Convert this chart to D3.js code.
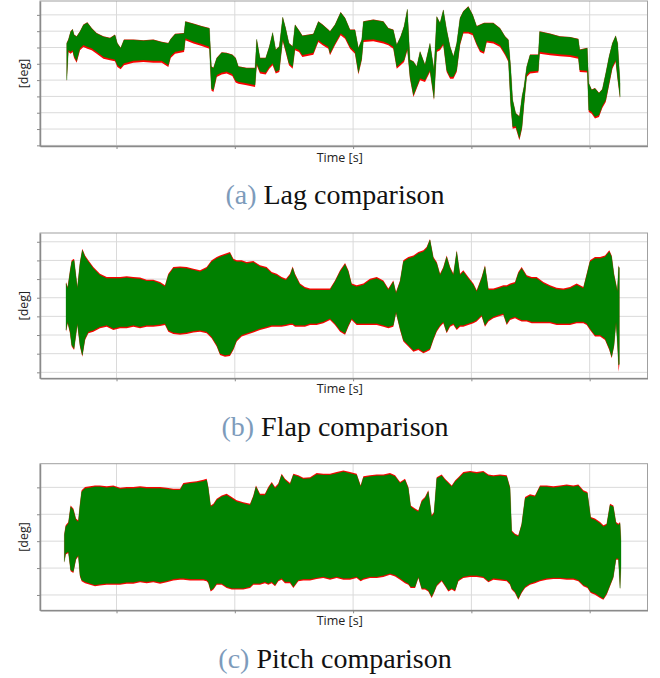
<!DOCTYPE html>
<html><head><meta charset="utf-8">
<script src="https://cdn.jsdelivr.net/npm/d3@7"></script>
<style>body{margin:0;background:#fff}svg{display:block}</style>
</head><body>
<svg id="chart" width="660" height="678"></svg>
<script>
// ---------- shared axis ticks ----------
const timeTicks = [100, 200, 300, 400, 500];
const lagTicks = [0, 1, 2, 3, 4, 5, 6, 7, 8];
const flapTicks = [0, 1, 2, 3, 4, 5, 6, 7];
const pitchTicks = [0, 1, 2, 3, 4];
const captionTags = ["(a)", "(b)", "(c)"];
const captionTexts = ["Lag comparison", "Flap comparison", "Pitch comparison"];
const xTitle = "Time [s]";
const yTitle = "[deg]";

// ---------- (a) Lag: envelopes of the oscillating signals ----------
const lagTime = [57.9,59.3,61.2,62.9,64.1,66.3,69.1,72.0,75.3,79.0,
 83.2,88.9,94.5,98.7,100.7,103.5,106.3,114.2,122.7,131.1,
 138.2,143.8,145.8,149.5,157.1,158.2,165.0,172.0,178.5,180.2,
 181.9,184.7,188.9,193.1,197.9,200.7,203.0,210.0,217.1,218.5,
 221.3,226.1,229.2,232.0,234.6,237.6,240.5,243.0,245.8,248.9,
 250.9,254.3,257.1,266.4,270.6,274.3,279.1,280.5,284.7,289.5,
 293.2,297.4,301.6,304.5,307.3,308.7,317.1,325.6,329.8,334.0,
 336.9,340.2,343.1,345.9,348.1,351.0,353.8,356.6,360.8,365.0,
 368.4,370.7,373.5,376.3,379.1,382.0,384.8,387.6,390.4,393.2,
 397.4,401.1,404.5,407.3,410.7,412.9,418.6,424.2,428.5,431.3,
 433.2,434.9,437.5,440.6,442.8,444.5,446.8,449.6,456.6,457.7,
 466.5,474.9,483.4,490.4,491.6,498.0,499.2,501.7,504.5,507.9,
 510.7,513.6,516.4,519.2,522.0,523.7,525.7];
const lagGreenHi = [6.25,6.46,6.97,7.11,6.76,6.66,6.97,7.38,7.52,7.17,
 6.86,6.66,6.56,6.76,6.25,5.95,6.46,6.46,6.42,6.46,
 6.32,6.25,6.50,6.81,6.86,7.58,7.44,7.28,7.17,4.82,
 4.72,5.34,5.68,5.64,5.54,5.34,4.82,4.72,4.72,6.50,
 5.34,5.34,6.05,6.91,5.85,6.05,7.85,7.17,6.25,6.05,
 7.38,7.03,6.71,6.81,7.58,7.38,7.07,6.97,7.38,8.14,
 7.79,7.07,7.07,5.95,6.46,7.58,7.69,7.58,7.17,7.07,
 6.15,6.66,7.28,8.34,5.23,5.13,4.82,5.74,4.92,6.25,
 4.62,7.89,7.48,8.30,7.07,6.05,5.43,6.25,7.79,8.20,
 8.50,7.99,7.28,7.38,7.48,7.48,7.48,7.17,6.66,6.46,
 4.82,2.78,1.96,1.76,2.98,3.60,4.82,5.54,5.54,6.97,
 6.83,6.66,6.62,6.50,5.85,5.95,3.80,3.39,3.49,3.19,
 3.43,4.41,5.43,6.25,6.71,6.25,3.80];
const lagGreenLo = [4.00,5.85,5.74,5.84,5.48,5.19,5.95,6.15,6.05,5.95,
 5.74,5.43,5.33,5.27,4.92,4.78,5.03,5.19,5.23,5.19,
 5.19,4.92,5.48,5.74,5.85,6.56,6.36,6.21,6.05,3.49,
 3.39,4.31,4.46,4.52,4.37,3.97,3.90,3.80,3.70,5.03,
 4.52,4.46,4.82,5.03,4.52,4.62,6.50,5.85,5.03,4.82,
 5.95,5.85,5.54,5.68,6.46,6.25,6.05,5.64,6.25,6.87,
 6.66,6.05,5.74,4.46,5.33,6.46,6.50,6.36,6.25,6.05,
 4.82,5.03,5.23,5.95,4.21,3.08,3.60,4.11,4.00,4.62,
 2.88,5.85,5.95,6.25,4.62,4.21,4.21,4.62,6.25,6.97,
 6.97,6.87,6.25,5.85,5.74,6.42,6.36,6.15,5.64,5.23,
 2.57,1.14,1.18,0.43,1.14,2.57,4.31,4.52,4.58,5.74,
 5.64,5.58,5.54,5.43,4.62,4.58,2.16,2.06,1.76,1.86,
 2.41,2.78,3.80,4.82,5.23,4.11,2.98];
const lagRedHi = [6.29,6.50,7.00,7.14,6.79,6.69,7.00,7.41,7.55,7.20,
 6.89,6.69,6.59,6.79,6.28,5.98,6.49,6.49,6.45,6.49,
 6.35,6.28,6.53,6.84,6.89,7.61,7.47,7.31,7.20,4.85,
 4.75,5.37,5.71,5.67,5.57,5.37,4.85,4.75,4.75,6.53,
 5.37,5.37,6.08,6.94,5.88,6.08,7.88,7.20,6.28,6.08,
 7.41,7.06,6.74,6.84,7.61,7.41,7.10,7.00,7.41,8.17,
 7.82,7.10,7.10,5.98,6.49,7.61,7.72,7.61,7.20,7.10,
 6.18,6.69,7.31,8.37,5.26,5.16,4.85,5.77,4.95,6.28,
 4.65,7.92,7.51,8.33,7.10,6.08,5.46,6.28,7.82,8.23,
 8.53,8.02,7.31,7.41,7.51,7.51,7.51,7.20,6.69,6.49,
 4.85,2.81,1.99,1.79,3.01,3.63,4.85,5.57,5.57,7.00,
 6.86,6.69,6.65,6.53,5.88,5.98,3.83,3.42,3.52,3.22,
 3.46,4.44,5.46,6.28,6.74,6.28,3.83];
const lagRedLo = [3.88,5.73,5.62,5.72,5.36,5.07,5.83,6.03,5.93,5.83,
 5.62,5.31,5.21,5.15,4.80,4.66,4.91,5.07,5.11,5.07,
 5.07,4.80,5.36,5.62,5.73,6.44,6.24,6.09,5.93,3.37,
 3.27,4.19,4.34,4.40,4.25,3.85,3.78,3.68,3.58,4.91,
 4.40,4.34,4.70,4.91,4.40,4.50,6.38,5.73,4.91,4.70,
 5.83,5.73,5.42,5.56,6.34,6.13,5.93,5.52,6.13,6.75,
 6.54,5.93,5.62,4.34,5.21,6.34,6.38,6.24,6.13,5.93,
 4.70,4.91,5.11,5.83,4.09,2.96,3.48,3.99,3.88,4.50,
 2.76,5.73,5.83,6.13,4.50,4.09,4.09,4.50,6.13,6.85,
 6.85,6.75,6.13,5.73,5.62,6.30,6.24,6.03,5.52,5.11,
 2.45,1.02,1.06,0.31,1.02,2.45,4.19,4.40,4.46,5.62,
 5.52,5.46,5.42,5.31,4.50,4.46,2.04,1.94,1.64,1.74,
 2.29,2.66,3.68,4.70,5.11,3.99,2.86];

// ---------- (b) Flap ----------
const flapTime = [57.3,58.7,60.7,62.1,64.1,66.9,69.1,71.1,73.4,76.2,
 80.4,86.0,91.7,97.3,103.0,108.6,114.2,119.9,125.5,131.1,
 136.8,141.0,143.8,148.0,153.7,159.3,165.0,170.6,176.2,180.4,
 184.7,187.5,191.7,195.9,198.8,201.6,205.8,210.0,215.7,221.3,
 226.9,231.2,235.4,239.6,243.3,246.7,248.9,250.9,255.1,259.3,
 263.6,269.2,274.8,280.5,284.7,289.0,293.2,296.0,298.8,303.0,
 308.7,314.3,320.0,325.6,329.8,334.0,336.3,339.7,342.5,346.7,
 351.0,355.2,359.4,362.2,365.0,367.9,370.7,373.5,376.3,379.1,
 382.0,384.8,387.6,390.4,393.2,397.4,401.7,404.5,408.7,411.5,
 414.4,418.6,422.8,427.0,429.9,432.7,436.9,439.7,442.5,446.8,
 451.0,455.2,460.9,466.5,472.1,477.8,483.4,489.0,494.7,497.5,
 500.3,504.5,508.8,513.0,516.6,518.6,520.6,522.3,523.4,524.5,525.1];
const flapGreenHi = [4.76,4.50,5.39,5.93,6.01,4.50,5.84,6.55,6.19,5.93,
 5.57,5.21,5.03,5.03,5.03,5.07,5.03,5.00,4.89,4.89,
 4.76,4.59,5.21,5.57,5.60,5.57,5.48,5.39,5.57,5.93,
 6.10,6.19,6.28,6.37,6.01,5.93,5.93,5.84,5.89,5.66,
 5.57,5.30,5.21,5.03,4.94,5.21,5.60,5.21,4.68,4.50,
 4.41,4.41,4.41,4.41,4.85,5.39,5.78,5.39,4.68,4.59,
 4.68,4.94,5.03,4.85,4.41,4.85,4.23,4.85,5.93,6.10,
 6.19,6.37,6.46,6.64,7.09,6.10,5.84,5.21,5.57,6.19,
 5.57,5.21,6.46,5.21,5.39,5.03,4.68,4.32,5.03,5.66,
 4.41,4.41,4.50,4.59,4.59,4.68,4.76,5.30,5.57,5.12,
 5.03,5.03,4.76,4.59,4.46,4.41,4.50,4.68,4.50,5.21,
 5.93,6.10,6.10,6.19,6.46,6.19,5.21,4.68,4.32,5.66,5.60];
const flapGreenLo = [2.26,2.71,2.17,1.46,1.28,2.62,1.46,0.92,1.82,2.17,
 2.26,2.44,2.53,2.35,2.44,2.44,2.53,2.44,2.53,2.53,
 2.57,2.62,2.26,2.14,2.09,2.14,2.21,2.26,2.17,1.91,
 1.46,1.01,0.92,0.96,1.28,1.73,2.00,2.09,2.21,2.35,
 2.44,2.53,2.53,2.53,2.57,2.62,2.62,2.53,2.53,2.53,
 2.62,2.62,2.71,2.89,2.62,2.26,2.09,2.53,2.89,2.62,
 2.62,2.62,2.62,2.53,2.44,2.53,3.25,2.35,1.73,1.46,
 1.19,1.28,1.10,1.19,1.28,1.82,2.26,2.53,2.71,2.17,
 2.53,2.62,2.35,2.53,2.53,2.62,2.71,2.80,3.07,2.53,
 2.80,2.98,3.07,3.16,2.62,2.89,2.98,2.89,2.80,2.80,
 2.71,2.71,2.71,2.71,2.62,2.62,2.62,2.71,2.71,2.62,
 2.35,2.00,2.00,1.82,1.28,0.84,1.46,2.71,1.64,0.39,0.45];
const flapRedHi = [4.84,4.58,5.47,6.01,6.09,4.58,5.92,6.63,6.27,6.01,
 5.65,5.29,5.11,5.11,5.11,5.15,5.11,5.08,4.97,4.97,
 4.84,4.67,5.29,5.65,5.68,5.65,5.56,5.47,5.65,6.01,
 6.18,6.27,6.36,6.45,6.09,6.01,6.01,5.92,5.97,5.74,
 5.65,5.38,5.29,5.11,5.02,5.29,5.68,5.29,4.76,4.58,
 4.49,4.49,4.49,4.49,4.93,5.47,5.86,5.47,4.76,4.67,
 4.76,5.02,5.11,4.93,4.49,4.93,4.31,4.93,6.01,6.18,
 6.27,6.45,6.54,6.72,7.15,6.18,5.92,5.29,5.65,6.27,
 5.65,5.29,6.54,5.29,5.47,5.11,4.76,4.40,5.11,5.74,
 4.49,4.49,4.58,4.67,4.67,4.76,4.84,5.38,5.65,5.20,
 5.11,5.11,4.84,4.67,4.54,4.49,4.58,4.76,4.58,5.29,
 6.01,6.18,6.18,6.27,6.54,6.27,5.29,4.76,4.40,5.74,5.60];
const flapRedLo = [2.18,2.63,2.09,1.38,1.20,2.54,1.38,0.84,1.74,2.09,
 2.18,2.36,2.45,2.27,2.36,2.36,2.45,2.36,2.45,2.45,
 2.49,2.54,2.18,2.06,2.01,2.06,2.13,2.18,2.09,1.83,
 1.38,0.93,0.84,0.88,1.20,1.65,1.92,2.01,2.13,2.27,
 2.36,2.45,2.45,2.45,2.49,2.54,2.54,2.45,2.45,2.45,
 2.54,2.54,2.63,2.81,2.54,2.18,2.01,2.45,2.81,2.54,
 2.54,2.54,2.54,2.45,2.36,2.45,3.17,2.27,1.65,1.38,
 1.11,1.20,1.02,1.11,1.20,1.74,2.18,2.45,2.63,2.09,
 2.45,2.54,2.27,2.45,2.45,2.54,2.63,2.72,2.99,2.45,
 2.72,2.90,2.99,3.08,2.54,2.81,2.90,2.81,2.72,2.72,
 2.63,2.63,2.63,2.63,2.54,2.54,2.54,2.63,2.63,2.54,
 2.27,1.92,1.92,1.74,1.20,0.76,1.38,2.63,1.56,0.03,0.40];

// ---------- (c) Pitch ----------
const pitchTime = [55.9,57.0,59.3,61.2,63.5,65.7,67.7,69.1,70.5,73.4,
 77.6,81.8,86.0,91.7,97.3,103.0,108.6,114.2,119.9,125.5,
 131.1,136.8,142.4,148.0,153.7,156.5,162.1,167.8,173.4,176.2,
 177.6,179.6,181.9,184.7,188.9,193.1,197.4,201.6,207.2,212.9,
 215.7,217.9,221.3,225.5,228.3,231.2,234.0,236.8,239.6,242.4,
 246.7,249.5,253.7,257.9,263.6,269.2,274.8,280.5,286.1,291.8,
 297.4,303.0,306.4,308.7,314.3,320.0,325.6,331.2,335.5,339.7,
 343.9,346.7,348.7,352.4,355.2,358.0,360.8,363.6,366.4,368.4,
 370.7,374.9,377.7,380.5,383.4,386.2,389.0,393.2,398.9,404.5,
 410.1,414.4,418.6,424.2,429.9,432.7,434.1,436.9,439.7,442.5,
 445.4,449.6,453.8,458.0,463.7,469.3,474.9,480.6,486.2,490.4,
 494.7,498.1,500.9,504.5,508.8,511.6,514.4,517.2,520.0,522.3,
 524.3,525.7,526.5];
const pitchGreenHi = [2.23,2.54,2.66,3.28,3.16,2.79,2.72,3.34,3.84,3.96,
 3.99,4.02,4.02,3.99,4.02,3.94,3.96,3.96,3.99,3.96,
 3.96,3.96,3.94,3.90,3.90,4.11,4.15,4.18,4.23,4.27,
 3.96,3.28,3.34,3.53,3.65,3.71,3.59,3.47,3.40,3.34,
 3.65,4.02,3.71,3.71,3.96,4.15,3.96,4.09,4.46,4.27,
 4.11,4.46,4.40,4.31,4.33,4.48,4.46,4.46,4.52,4.58,
 4.52,4.46,4.02,4.36,4.40,4.43,4.43,4.48,4.40,4.15,
 4.27,3.96,3.28,3.16,3.09,3.47,3.59,3.84,2.91,3.03,
 4.33,4.43,4.27,4.15,4.02,4.21,4.33,4.52,4.56,4.52,
 4.56,4.43,4.40,4.43,4.40,3.96,2.35,2.23,2.17,2.60,
 3.59,3.69,3.65,4.02,4.02,3.99,4.02,4.06,4.02,4.06,
 3.84,3.78,2.85,2.79,2.66,2.54,2.60,3.34,3.28,2.66,
 2.60,2.66,1.98];
const pitchGreenLo = [1.24,1.55,1.61,0.93,0.87,1.36,1.48,0.74,0.56,0.49,
 0.43,0.37,0.40,0.43,0.43,0.43,0.47,0.47,0.52,0.49,
 0.52,0.47,0.52,0.59,0.62,0.62,0.59,0.59,0.59,0.56,
 0.49,0.18,0.25,0.43,0.43,0.31,0.25,0.25,0.25,0.31,
 0.43,0.43,0.43,0.49,0.43,0.49,0.37,0.56,0.62,0.49,
 0.49,0.31,0.56,0.59,0.59,0.64,0.68,0.62,0.68,0.62,
 0.62,0.68,0.56,0.62,0.68,0.68,0.72,0.80,0.74,0.62,
 0.49,0.43,0.31,0.31,0.68,0.25,0.25,0.18,-0.06,0.12,
 0.37,0.56,0.37,0.18,0.25,0.18,0.56,0.68,0.72,0.72,
 0.68,0.52,0.62,0.59,0.56,0.43,0.25,0.12,-0.13,0.12,
 0.31,0.43,0.49,0.56,0.62,0.64,0.64,0.62,0.62,0.56,
 0.37,0.31,0.12,0.06,-0.06,-0.13,0.06,0.37,0.68,1.36,
 1.36,0.25,1.11];
const pitchRedHi = [2.28,2.59,2.71,3.33,3.21,2.84,2.77,3.39,3.89,4.01,
 4.04,4.07,4.07,4.04,4.07,3.99,4.01,4.01,4.04,4.01,
 4.01,4.01,3.99,3.95,3.95,4.16,4.20,4.23,4.28,4.32,
 4.01,3.33,3.39,3.58,3.70,3.76,3.64,3.52,3.45,3.39,
 3.70,4.07,3.76,3.76,4.01,4.20,4.01,4.14,4.51,4.32,
 4.16,4.51,4.45,4.36,4.38,4.53,4.51,4.51,4.57,4.63,
 4.57,4.51,4.07,4.41,4.45,4.48,4.48,4.53,4.45,4.20,
 4.32,4.01,3.33,3.21,3.14,3.52,3.64,3.89,2.96,3.08,
 4.38,4.48,4.32,4.20,4.07,4.26,4.38,4.57,4.61,4.57,
 4.61,4.48,4.45,4.48,4.45,4.01,2.40,2.28,2.22,2.65,
 3.64,3.74,3.70,4.07,4.07,4.04,4.07,4.11,4.07,4.11,
 3.89,3.83,2.90,2.84,2.71,2.59,2.65,3.39,3.33,2.71,
 2.65,2.71,2.03];
const pitchRedLo = [1.19,1.50,1.56,0.88,0.82,1.31,1.43,0.69,0.51,0.44,
 0.38,0.32,0.35,0.38,0.38,0.38,0.42,0.42,0.47,0.44,
 0.47,0.42,0.47,0.54,0.57,0.57,0.54,0.54,0.54,0.51,
 0.44,0.13,0.20,0.38,0.38,0.26,0.20,0.20,0.20,0.26,
 0.38,0.38,0.38,0.44,0.38,0.44,0.32,0.51,0.57,0.44,
 0.44,0.26,0.51,0.54,0.54,0.59,0.63,0.57,0.63,0.57,
 0.57,0.63,0.51,0.57,0.63,0.63,0.67,0.75,0.69,0.57,
 0.44,0.38,0.26,0.26,0.63,0.20,0.20,0.13,-0.11,0.07,
 0.32,0.51,0.32,0.13,0.20,0.13,0.51,0.63,0.67,0.67,
 0.63,0.47,0.57,0.54,0.51,0.38,0.20,0.07,-0.18,0.07,
 0.26,0.38,0.44,0.51,0.57,0.59,0.59,0.57,0.57,0.51,
 0.32,0.26,0.07,0.01,-0.11,-0.18,0.01,0.32,0.63,1.31,
 1.31,0.20,1.06];

// ---------- layout ----------
const W = 660, H = 678;
const plotLeft = 40, plotRight = 647.5;
const timeDomain = [35.3, 548.9];
const panels = [
  {t: lagTime, gHi: lagGreenHi, gLo: lagGreenLo, rHi: lagRedHi, rLo: lagRedLo,
   ticks: lagTicks, yDomain: [-0.04, 8.85], top: 1, bottom: 146, xTitleY: 161.5, capY: 203.5},
  {t: flapTime, gHi: flapGreenHi, gLo: flapGreenLo, rHi: flapRedHi, rLo: flapRedLo,
   ticks: flapTicks, yDomain: [-0.32, 7.47], top: 233, bottom: 378.3, xTitleY: 392.5, capY: 435.5},
  {t: pitchTime, gHi: pitchGreenHi, gLo: pitchGreenLo, rHi: pitchRedHi, rLo: pitchRedLo,
   ticks: pitchTicks, yDomain: [-0.57, 4.88], top: 463.7, bottom: 610.3, xTitleY: 625, capY: 667.5}
];

const svg = d3.select("#chart");
svg.append("rect").attr("width", W).attr("height", H).attr("fill", "#fff");
const x = d3.scaleLinear().domain(timeDomain).range([plotLeft, plotRight]);

panels.forEach((p, i) => {
  const y = d3.scaleLinear().domain(p.yDomain).range([p.bottom, p.top]);
  const g = svg.append("g");
  const clipId = "clip" + i;
  svg.append("clipPath").attr("id", clipId).append("rect")
    .attr("x", plotLeft).attr("y", p.top).attr("width", plotRight - plotLeft).attr("height", p.bottom - p.top);

  // grid
  g.append("g").selectAll("line").data(p.ticks).join("line")
    .attr("x1", plotLeft).attr("x2", plotRight)
    .attr("y1", d => y(d)).attr("y2", d => y(d))
    .attr("stroke", "#dadada").attr("stroke-width", 1);
  g.append("g").selectAll("line").data(timeTicks).join("line")
    .attr("x1", d => x(d)).attr("x2", d => x(d))
    .attr("y1", p.top).attr("y2", p.bottom)
    .attr("stroke", "#dadada").attr("stroke-width", 1);

  // series
  const n = Math.min(p.t.length, p.gHi.length, p.gLo.length, p.rHi.length, p.rLo.length);
  const idx = d3.range(n);
  const redArea = d3.area().x(k => x(p.t[k])).y0(k => y(p.rLo[k])).y1(k => y(p.rHi[k]));
  const greenArea = d3.area().x(k => x(p.t[k])).y0(k => y(p.gLo[k])).y1(k => y(p.gHi[k]));
  const dg = g.append("g").attr("clip-path", `url(#${clipId})`);
  dg.append("path").datum(idx).attr("d", redArea).attr("fill", "#ff0000");
  dg.append("path").datum(idx).attr("d", greenArea)
    .attr("fill", "#008000").attr("stroke", "#008000").attr("stroke-width", 0.3);

  // frame
  g.append("rect").attr("x", plotLeft).attr("y", p.top)
    .attr("width", plotRight - plotLeft).attr("height", p.bottom - p.top)
    .attr("fill", "none").attr("stroke", "#a0a0a0").attr("stroke-width", 1);

  // axes (ticks only, labels hidden as in the original)
  const ya = g.append("g").attr("transform", `translate(${plotLeft},0)`)
    .call(d3.axisLeft(y).tickValues(p.ticks).tickSize(3).tickSizeOuter(0).tickFormat(() => ""));
  const xa = g.append("g").attr("transform", `translate(0,${p.bottom})`)
    .call(d3.axisBottom(x).tickValues(timeTicks).tickSize(3).tickSizeOuter(0).tickFormat(() => ""));
  [ya, xa].forEach(a => {
    a.select(".domain").attr("stroke", "#8a8a8a").attr("stroke-width", 1.5);
    a.selectAll(".tick line").attr("stroke", "#8a8a8a");
  });

  // titles
  g.append("text").attr("x", (plotLeft + plotRight) / 2 - 4).attr("y", p.xTitleY)
    .attr("text-anchor", "middle").attr("font-family", "'Open Sans', sans-serif")
    .attr("font-size", 12.5).attr("fill", "#222").text(xTitle);
  g.append("text")
    .attr("transform", `translate(27.5,${(p.top + p.bottom) / 2}) rotate(-90)`)
    .attr("text-anchor", "middle").attr("font-family", "'Open Sans', sans-serif")
    .attr("font-size", 12.5).attr("fill", "#222").text(yTitle);

  // caption
  const cap = svg.append("text").attr("x", 335).attr("y", p.capY)
    .attr("text-anchor", "middle").attr("font-family", "'Liberation Serif', serif")
    .attr("font-size", 28);
  cap.append("tspan").attr("fill", "#7d9bbb").text(captionTags[i]);
  cap.append("tspan").attr("fill", "#111").text(" " + captionTexts[i]);
});
</script>
</body></html>
